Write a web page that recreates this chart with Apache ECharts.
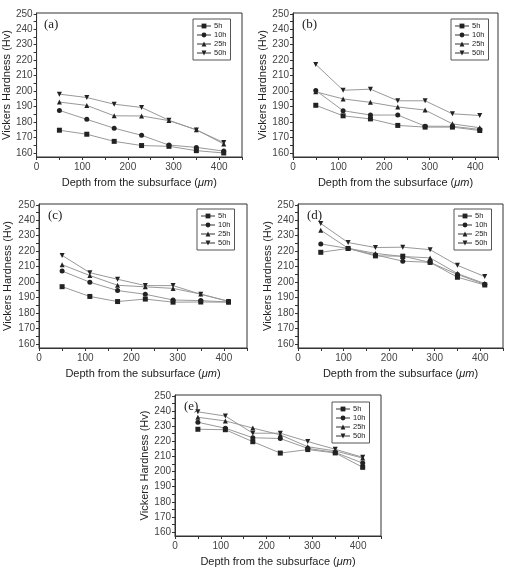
<!DOCTYPE html>
<html>
<head>
<meta charset="utf-8">
<script src="https://cdn.jsdelivr.net/npm/echarts@6/dist/echarts.min.js"></script>
<style>
  html, body { margin: 0; padding: 0; background: #fff; }
  #main { width: 505px; height: 568px; }
</style>
</head>
<body>
<div id="main"></div>
<script>
// depth from the subsurface (um)
var depth = [50, 110, 170, 230, 290, 350, 410];
var seriesNames = ['5h', '10h', '25h', '50h'];
var yTickLabels = [160, 170, 180, 190, 200, 210, 220, 230, 240, 250];
var xTickLabels = [0, 100, 200, 300, 400];
var panelLabels = ['(a)', '(b)', '(c)', '(d)', '(e)'];

// (a)
var a5h  = [174.8, 172.2, 167.6, 164.9, 164.4, 161.6, 160.1];
var a10h = [187.6, 181.8, 176.1, 171.5, 165.2, 163.7, 161.3];
var a25h = [193.0, 190.8, 184.1, 184.0, 181.0, 175.1, 165.9];
var a50h = [198.1, 195.9, 191.6, 189.5, 181.2, 175.0, 166.8];
// (b)
var b5h  = [190.9, 184.1, 182.1, 177.9, 176.8, 176.8, 174.6];
var b10h = [200.5, 187.4, 184.6, 184.6, 177.4, 177.3, 175.3];
var b25h = [199.6, 195.0, 192.8, 189.8, 187.8, 178.9, 176.4];
var b50h = [217.3, 200.6, 201.3, 193.8, 193.8, 185.4, 184.3];
// (c)
var c5h  = [197.1, 190.8, 187.5, 189.1, 187.1, 187.2, 187.1];
var c10h = [207.2, 200.0, 194.6, 192.2, 188.5, 188.1, 187.2];
var c25h = [211.3, 204.3, 198.0, 197.0, 196.0, 192.3, 187.7];
var c50h = [217.3, 206.1, 201.9, 197.8, 197.8, 192.2, 187.6];
// (d)
var d5h  = [219.3, 221.8, 217.0, 216.8, 212.8, 203.2, 198.2];
var d10h = [224.7, 221.8, 217.6, 213.6, 212.8, 205.0, 198.6];
var d25h = [233.6, 221.9, 218.6, 216.6, 215.7, 205.6, 199.1];
var d50h = [237.9, 225.6, 222.4, 222.6, 221.0, 210.9, 203.6];
// (e)
var e5h  = [227.9, 227.6, 219.7, 212.2, 214.5, 212.3, 202.8];
var e10h = [232.5, 228.6, 222.3, 221.8, 215.3, 212.6, 205.6];
var e25h = [235.8, 233.4, 228.7, 224.2, 216.4, 213.6, 208.9];
var e50h = [239.4, 236.6, 225.3, 225.3, 219.8, 214.7, 209.4];

var panelData = [
  [a5h, a10h, a25h, a50h],
  [b5h, b10h, b25h, b50h],
  [c5h, c10h, c25h, c50h],
  [d5h, d10h, d25h, d50h],
  [e5h, e10h, e25h, e50h]
];

// layout of the five plots
var gridPos = [
  {left: 35,  top: 13,  width: 207, height: 144},
  {left: 293, top: 13,  width: 205, height: 144},
  {left: 39,  top: 204, width: 208, height: 144},
  {left: 298, top: 204, width: 205, height: 144},
  {left: 175, top: 395, width: 206, height: 144}
];
var legendPos = [
  {left: 193, top: 19},
  {left: 451, top: 19},
  {left: 197, top: 209},
  {left: 454, top: 209},
  {left: 332, top: 402}
];
var yNameGap = [22, 24, 26, 25, 24];

var symbols = ['rect', 'circle', 'triangle', 'triangle'];
var rotates = [0, 0, 0, 180];

var font = 'Liberation Sans, Arial, sans-serif';

var yMinor = [];
for (var v = 160; v <= 250; v += 5) yMinor.push(v);
var xMinor = [0, 50, 100, 150, 200, 250, 300, 350, 400, 450];

var dom = document.getElementById('main');
var myChart = echarts.init(dom, null, {renderer: 'canvas'});

var grids = [], xAxes = [], yAxes = [], series = [], legends = [], texts = [];

for (var p = 0; p < 5; p++) {
  grids.push({
    left: gridPos[p].left, top: gridPos[p].top,
    width: gridPos[p].width, height: gridPos[p].height,
    show: true, borderColor: '#333', borderWidth: 1,
    containLabel: false
  });
  xAxes.push({
    gridIndex: p, type: 'value', min: 0, max: 450,
    name: 'Depth from the subsurface ({i|μm})',
    nameLocation: 'middle', nameGap: 20,
    nameTextStyle: {
      fontFamily: font, fontSize: 11, color: '#222',
      rich: {i: {fontFamily: font, fontSize: 11, fontStyle: 'italic', color: '#222'}}
    },
    axisLine: {show: true, lineStyle: {color: '#333', width: 1}},
    axisTick: {show: true, inside: false, length: 3, customValues: xMinor, lineStyle: {color: '#333'}},
    axisLabel: {fontFamily: font, fontSize: 10, color: '#444', margin: 5, customValues: xTickLabels},
    splitLine: {show: false}
  });
  yAxes.push({
    gridIndex: p, type: 'value', min: 157.5, max: 250.5,
    name: 'Vickers Hardness (Hv)',
    nameLocation: 'middle', nameGap: yNameGap[p],
    nameTextStyle: {fontFamily: font, fontSize: 11, color: '#222'},
    axisLine: {show: true, lineStyle: {color: '#333', width: 1}},
    axisTick: {show: true, inside: false, length: 3, customValues: yMinor, lineStyle: {color: '#333'}},
    axisLabel: {fontFamily: font, fontSize: 10, color: '#444', margin: 4, customValues: yTickLabels},
    splitLine: {show: false}
  });
  for (var s = 0; s < 4; s++) {
    var arr = panelData[p][s];
    series.push({
      name: seriesNames[s],
      type: 'line',
      xAxisIndex: p, yAxisIndex: p,
      data: depth.map(function (d, i) { return [d, arr[i]]; }),
      symbol: symbols[s],
      symbolRotate: rotates[s],
      symbolSize: 5,
      showSymbol: true,
      itemStyle: {color: '#222'},
      lineStyle: {color: '#999', width: 1},
      animation: false
    });
  }
  legends.push({
    data: seriesNames,
    orient: 'vertical',
    left: legendPos[p].left, top: legendPos[p].top,
    itemWidth: 14, itemHeight: 6, itemGap: 1,
    padding: [3, 4, 3, 3],
    borderColor: '#555', borderWidth: 1,
    textStyle: {fontFamily: font, fontSize: 7.5, color: '#222', padding: [0, 0, 0, -2]},
    selectedMode: false
  });
  texts.push({
    type: 'text',
    left: gridPos[p].left + 9,
    top: gridPos[p].top + 5,
    style: {text: panelLabels[p], font: '13px "Liberation Serif", "Times New Roman", serif', fill: '#222'}
  });
}

var option = {
  backgroundColor: '#fff',
  animation: false,
  grid: grids,
  xAxis: xAxes,
  yAxis: yAxes,
  legend: legends,
  series: series,
  graphic: texts
};
myChart.setOption(option);
</script>
</body>
</html>
